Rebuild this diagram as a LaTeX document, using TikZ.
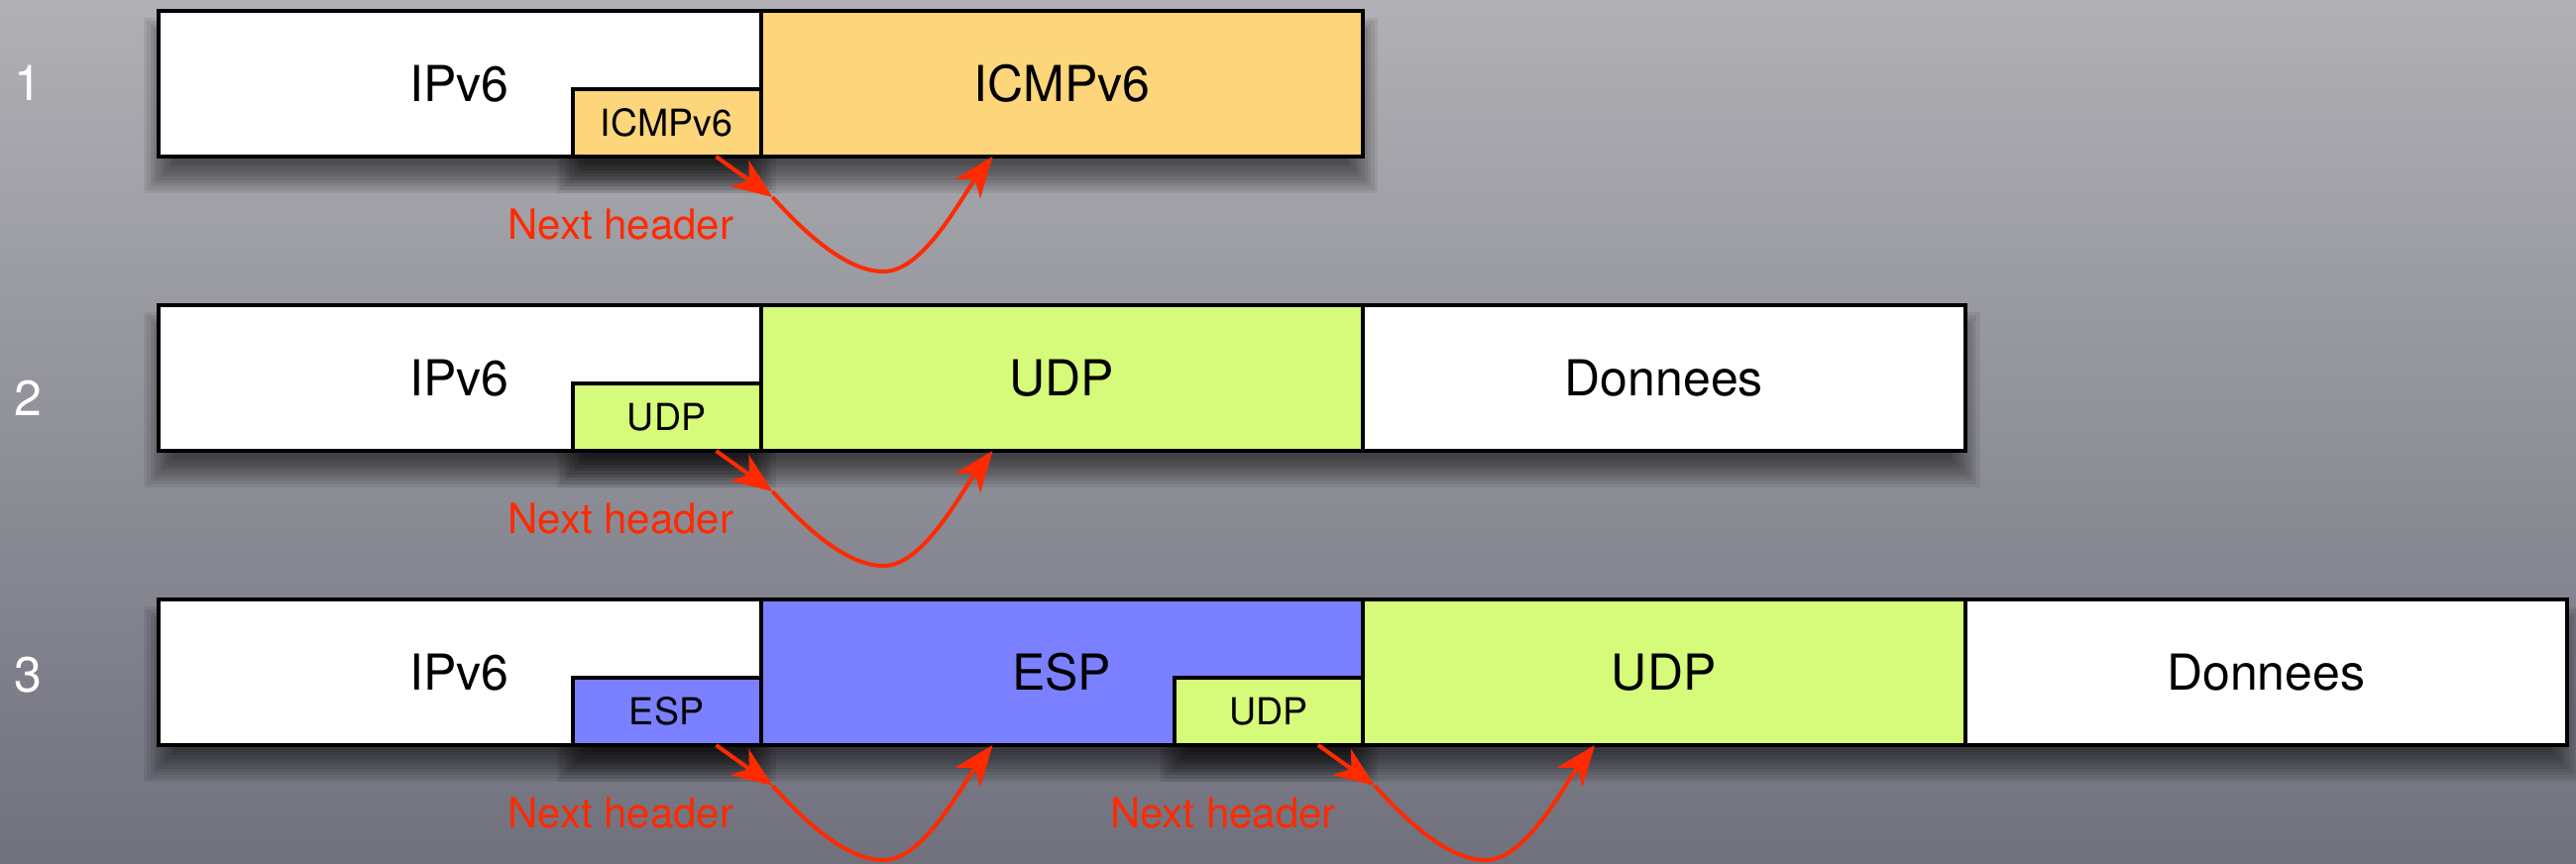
\documentclass[tikz,border=0pt]{standalone}
\usepackage{fontspec}
\setmainfont{TeX Gyre Heros}
\usetikzlibrary{arrows.meta,calc}
\definecolor{bgtop}{RGB}{176,176,181}
\definecolor{bgbot}{RGB}{112,113,125}
\definecolor{icmpcol}{RGB}{253,213,122}
\definecolor{udpcol}{RGB}{214,250,121}
\definecolor{espcol}{RGB}{122,128,255}
\definecolor{nhred}{RGB}{255,42,0}
\tikzset{
  hdr/.style={draw=black, line width=4pt, minimum width=607.5pt, minimum height=147pt,
    inner sep=0pt, outer sep=0pt, font=\fontsize{50}{60}\selectfont},
  subhdr/.style={draw=black, line width=4pt, minimum width=190pt, minimum height=68pt,
    inner sep=0pt, outer sep=0pt, anchor=south east, font=\fontsize{37.5}{45}\selectfont},
  rownum/.style={text=white, font=\fontsize{50}{60}\selectfont},
  nhlabel/.style={text=nhred, anchor=base east, inner sep=0pt, font=\fontsize{42}{50}\selectfont},
  nharrow/.style={draw=nhred, line width=4pt, -{Stealth[length=41pt,width=32pt,inset=12pt]}},
}
\newcommand\pshadow[4]{%
  \foreach \k in {0,...,9}{%
    \pgfmathsetmacro\rr{15-3.33*\k}%
    \fill[black,opacity=0.07] ({#1-\rr},{#2+22-\rr}) rectangle ({#3+\rr},{#4+22+\rr});
  }}
\newcommand\nextheader[1]{%
  \coordinate (#1-s) at ($(#1.south east)+(-45,0)$);
  \coordinate (#1-m) at ($(#1.south east)+(12,41)$);
  \coordinate (#1-b) at ($(#1.south east)+(125,116)$);
  \coordinate (#1-e) at ($(#1.south east)+(234,0)$);
  \draw[nharrow] (#1-s) -- (#1-m);
  \draw[nharrow] (#1-m) .. controls ($(#1.south east)+(40,72)$) and ($(#1.south east)+(85,117)$) .. (#1-b)
     .. controls ($(#1.south east)+(165,115)$) and ($(#1.south east)+(203,40)$) .. (#1-e);
  \node[nhlabel] (#1-lab) at ($(#1.south east)+(-27,83)$) {Next header};
}
\begin{document}
\begin{tikzpicture}[x=1pt,y=-1pt]
\useasboundingbox (0,0) rectangle (2599,871);
\shade[top color=bgtop, bottom color=bgbot] (0,0) rectangle (2599,871);
% shadows
\pshadow{160}{11}{1375}{158}
\pshadow{577}{90}{767.5}{158}
\pshadow{160}{308}{1982.5}{455}
\pshadow{577}{387}{767.5}{455}
\pshadow{160}{605}{2590}{752}
\pshadow{577}{684}{767.5}{752}
\pshadow{1185}{684}{1375}{752}
% row numbers
\node[rownum] (num1) at (28,84) {1};
\node[rownum] (num2) at (28,402) {2};
\node[rownum] (num3) at (28,681) {3};
% row 1
\node[hdr, fill=white, anchor=north west] (r1a) at (160,11) {IPv6};
\node[hdr, fill=icmpcol, anchor=west] (r1b) at (r1a.east) {ICMPv6};
\node[subhdr, fill=icmpcol] (s1) at (r1a.south east) {ICMPv6};
% row 2
\node[hdr, fill=white, anchor=north west] (r2a) at (160,308) {IPv6};
\node[hdr, fill=udpcol, anchor=west] (r2b) at (r2a.east) {UDP};
\node[hdr, fill=white, anchor=west] (r2c) at (r2b.east) {Donnees};
\node[subhdr, fill=udpcol] (s2) at (r2a.south east) {UDP};
% row 3
\node[hdr, fill=white, anchor=north west] (r3a) at (160,605) {IPv6};
\node[hdr, fill=espcol, anchor=west] (r3b) at (r3a.east) {ESP};
\node[hdr, fill=udpcol, anchor=west] (r3c) at (r3b.east) {UDP};
\node[hdr, fill=white, anchor=west] (r3d) at (r3c.east) {Donnees};
\node[subhdr, fill=espcol] (s3) at (r3a.south east) {ESP};
\node[subhdr, fill=udpcol] (s4) at (r3b.south east) {UDP};
% next header arrows
\nextheader{s1}
\nextheader{s2}
\nextheader{s3}
\nextheader{s4}
\end{tikzpicture}
\end{document}
